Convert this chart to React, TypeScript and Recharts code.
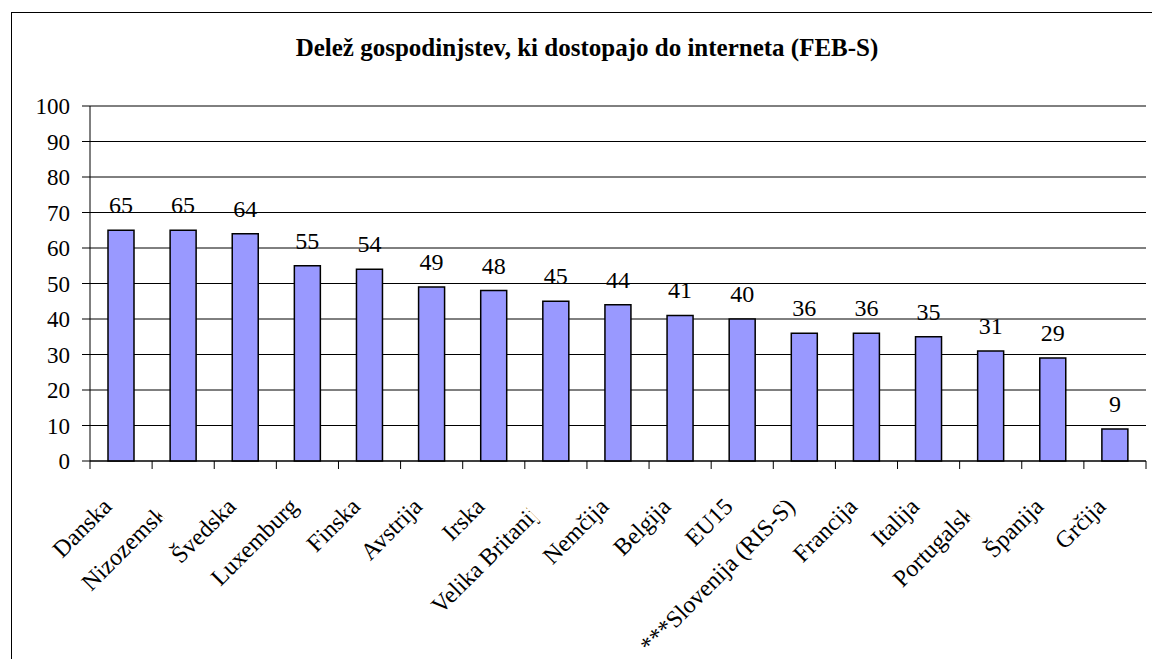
import { Bar, BarChart, CartesianGrid, LabelList, XAxis, YAxis } from "recharts";

const countries = [
  "Danska",
  "Nizozemska",
  "Švedska",
  "Luxemburg",
  "Finska",
  "Avstrija",
  "Irska",
  "Velika Britanija",
  "Nemčija",
  "Belgija",
  "EU15",
  "***Slovenija (RIS-S)",
  "Francija",
  "Italija",
  "Portugalska",
  "Španija",
  "Grčija",
];

const shares = [65, 65, 64, 55, 54, 49, 48, 45, 44, 41, 40, 36, 36, 35, 31, 29, 9];

const yTicks = [0, 10, 20, 30, 40, 50, 60, 70, 80, 90, 100];

// labels that the original chart cuts off
const clippedLabels = ["Nizozemska", "Velika Britanija", "Portugalska"];

const data = countries.map((name, i) => ({ name, share: shares[i] }));

const FONT = "'Liberation Serif', 'Times New Roman', serif";

function CountryTick(props: any) {
  const { x, y, payload, index, width } = props;
  const half = width / countries.length / 2;
  const ax = x - 8;
  const ay = y + 47;
  const clip = clippedLabels.includes(payload.value);
  const clipId = `clip-x-${index}`;
  const isLast = index === countries.length - 1;
  return (
    <g>
      <line x1={x - half} y1={y} x2={x - half} y2={y + 8} stroke="#000" />
      {isLast && <line x1={x + half} y1={y} x2={x + half} y2={y + 8} stroke="#000" />}
      {clip && (
        <defs>
          <clipPath id={clipId}>
            <rect x={x - 400} y={y} width={400 - 23} height={300} />
          </clipPath>
        </defs>
      )}
      <text
        x={ax}
        y={ay}
        transform={`rotate(-45 ${ax} ${ay})`}
        textAnchor="end"
        style={{ fontSize: 24, fontFamily: FONT }}
        fill="#000"
        clipPath={clip ? `url(#${clipId})` : undefined}
      >
        {payload.value}
      </text>
    </g>
  );
}

function ValueTick(props: any) {
  const { x, y, payload } = props;
  return (
    <text
      x={x}
      y={y}
      dy={8}
      textAnchor="end"
      style={{ fontSize: 23, fontFamily: FONT }}
      fill="#000"
    >
      {payload.value}
    </text>
  );
}

function App() {
  return (
    <div
      style={{
        position: "fixed",
        left: 0,
        top: 0,
        width: 1152,
        height: 659,
        overflow: "hidden",
        background: "#fff",
        fontFamily: FONT,
      }}
    >
      <div
        style={{
          position: "absolute",
          left: 11,
          top: 12,
          width: 1200,
          height: 700,
          border: "1px solid #000",
        }}
      />
      <div
        style={{
          position: "absolute",
          left: 0,
          top: 35,
          width: 1174,
          textAlign: "center",
          fontFamily: FONT,
          fontWeight: "bold",
          fontSize: 25,
          lineHeight: "25px",
        }}
      >
        Delež gospodinjstev, ki dostopajo do interneta (FEB-S)
      </div>
      <div style={{ position: "absolute", left: 0, top: 0 }}>
        <BarChart
          width={1152}
          height={659}
          data={data}
          margin={{ top: 106, right: 6, bottom: 0, left: 0 }}
          barSize={26}
        >
          <CartesianGrid vertical={false} stroke="#000" strokeDasharray="" />
          <XAxis
            dataKey="name"
            interval={0}
            height={198}
            axisLine={{ stroke: "#000" }}
            tickLine={false}
            tickSize={0}
            tickMargin={0}
            tick={<CountryTick />}
          />
          <XAxis
            xAxisId="t"
            dataKey="name"
            orientation="top"
            height={0}
            tick={false}
            tickLine={false}
            axisLine={{ stroke: "#808080", strokeWidth: 2 }}
          />
          <YAxis
            domain={[0, 100]}
            ticks={yTicks}
            interval={0}
            width={90}
            tickSize={8}
            tickMargin={12}
            axisLine={{ stroke: "#000" }}
            tickLine={{ stroke: "#000" }}
            tick={<ValueTick />}
          />
          <YAxis
            yAxisId="r"
            orientation="right"
            domain={[0, 100]}
            width={0}
            tick={false}
            tickLine={false}
            axisLine={{ stroke: "#808080", strokeWidth: 2 }}
          />
          <Bar
            dataKey="share"
            fill="#9999FF"
            stroke="#000"
            strokeWidth={1.5}
            isAnimationActive={false}
          >
            <LabelList
              dataKey="share"
              position="top"
              offset={17}
              fill="#000"
              style={{ fontSize: 24, fontFamily: FONT }}
            />
          </Bar>
        </BarChart>
      </div>
    </div>
  );
}

export default App;
